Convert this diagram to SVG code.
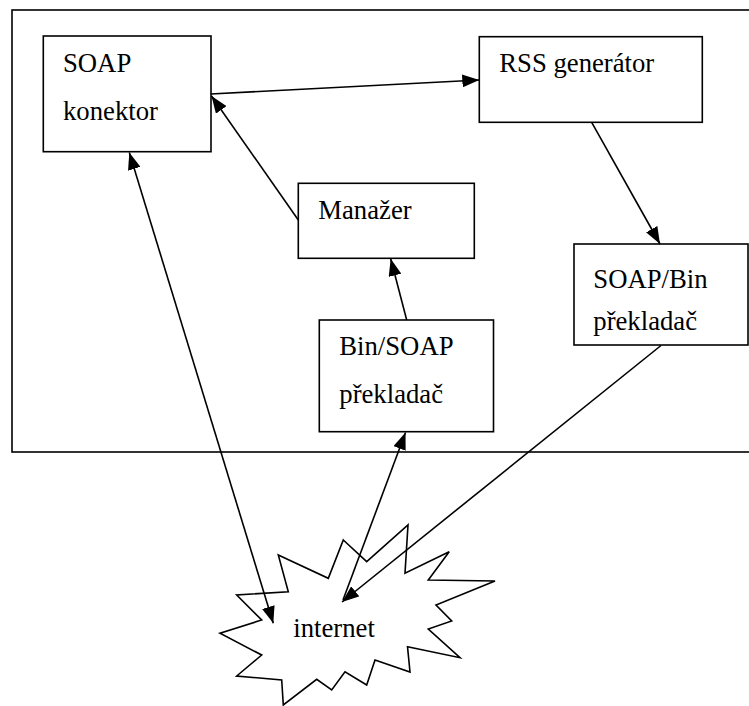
<svg xmlns="http://www.w3.org/2000/svg" width="749" height="706" viewBox="0 0 749 706">
<style>
.box{fill:#fff;stroke:#000;stroke-width:1.6}
.t{font-family:'Liberation Serif','Times New Roman',serif;font-size:26.7px;fill:#000}
.c{stroke:#000;stroke-width:1.6;fill:none}
</style>
<defs>
<marker id="ah" viewBox="0 0 17 13" refX="17" refY="6.5" markerWidth="17" markerHeight="13" markerUnits="userSpaceOnUse" orient="auto-start-reverse">
<path d="M0,0 L17,6.5 L0,13 Z" fill="#000"/>
</marker>
</defs>
<rect id="frame" x="12" y="10" width="745" height="442" fill="none" stroke="#000" stroke-width="1.6"/>
<g id="soap-konektor">
<rect class="box" x="43.3" y="36" width="167.7" height="115.7"/>
<text class="t" x="63" y="72">SOAP</text>
<text class="t" x="63" y="120">konektor</text>
</g>
<g id="rss-generator">
<rect class="box" x="479.3" y="36.7" width="223" height="85.6"/>
<text class="t" x="499.3" y="71.7">RSS generátor</text>
</g>
<g id="manazer">
<rect class="box" x="298.3" y="183.3" width="176" height="75"/>
<text class="t" x="318.3" y="219.3">Manažer</text>
</g>
<g id="bin-soap">
<rect class="box" x="319.3" y="320" width="174.2" height="111.7"/>
<text class="t" x="339.3" y="355">Bin/SOAP</text>
<text class="t" x="339.3" y="402.7">překladač</text>
</g>
<g id="soap-bin">
<rect class="box" x="574" y="244" width="174" height="101"/>
<text class="t" x="593.3" y="288.3">SOAP/Bin</text>
<text class="t" x="593.3" y="329.5">překladač</text>
</g>
<g id="internet">
<polygon fill="#fff" stroke="#000" stroke-width="1.6" stroke-linejoin="miter" points="343.3,540 366.7,561.7 408,525 405,573.3 449.2,551.7 428.3,580 495,581 436,605 451.7,621 428.3,629 460,657.7 407.5,646.7 410,672 375,660 366.7,685 345,671.7 331.7,690 316.7,679.3 283.3,705 281.7,680 236.7,676 261.7,655 220,633.3 261.7,620 236.7,595 288.3,591.7 278.3,555 328.3,578.3"/>
<text class="t" x="293.3" y="637.3">internet</text>
</g>
<g id="connectors">
<line class="c" x1="210.7" y1="94" x2="479.3" y2="80" marker-end="url(#ah)"/>
<line class="c" x1="591.7" y1="122.3" x2="660" y2="244" marker-end="url(#ah)"/>
<line class="c" x1="298.3" y1="220" x2="211.5" y2="96" marker-end="url(#ah)"/>
<line class="c" x1="406.7" y1="320" x2="390.7" y2="258.8" marker-end="url(#ah)"/>
<line class="c" x1="129.3" y1="152.5" x2="273.3" y2="623.3" marker-start="url(#ah)" marker-end="url(#ah)"/>
<line class="c" x1="343" y1="600" x2="405.5" y2="432.5" marker-end="url(#ah)"/>
<line class="c" x1="661" y1="345.5" x2="342" y2="602" marker-end="url(#ah)"/>
</g>
</svg>
